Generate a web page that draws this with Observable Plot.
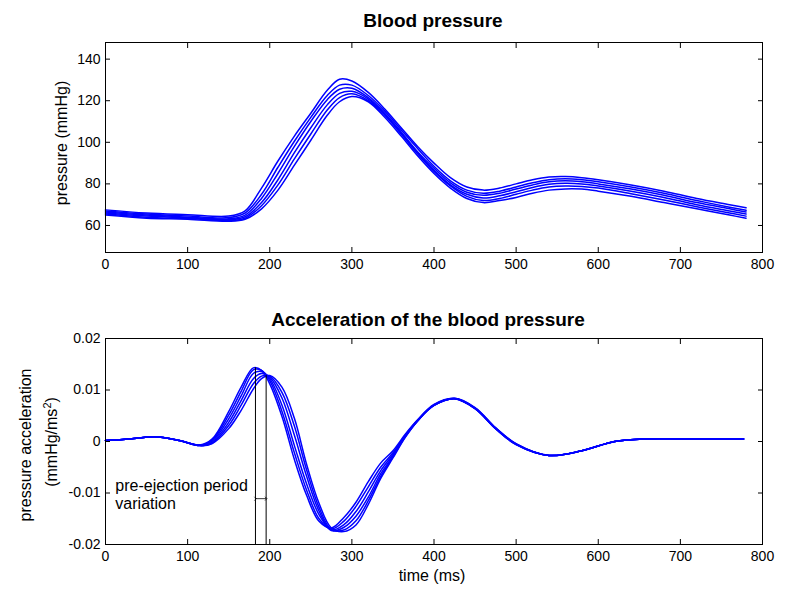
<!DOCTYPE html>
<html><head><meta charset="utf-8">
<script src="https://cdn.jsdelivr.net/npm/d3@7"></script>
<script src="https://cdn.jsdelivr.net/npm/@observablehq/plot@0.6"></script>
<style>
body{margin:0;background:#fff;}
#wrap{position:relative;width:790px;height:589px;font-family:"Liberation Sans",Arial,sans-serif;color:#000;overflow:hidden;background:#fff;}
.abs{position:absolute;white-space:nowrap;line-height:1;z-index:5;}
.title{font-weight:bold;font-size:19px;transform:translate(-50%,-50%);}
.lab{font-size:16px;transform:translate(-50%,-50%);}
.rot{transform:translate(-50%,-50%) rotate(-90deg);}
.plotbox{position:absolute;left:0;z-index:1;}
</style></head>
<body><div id="wrap">
<div id="p1" class="plotbox" style="top:0"></div>
<div id="p2" class="plotbox" style="top:300px"></div>
<div class="abs title" style="left:433px;top:20px">Blood pressure</div>
<div class="abs title" style="left:428px;top:319px">Acceleration of the blood pressure</div>
<div class="abs lab rot" style="left:62px;top:143px">pressure (mmHg)</div>
<div class="abs lab rot" style="left:26px;top:445px">pressure acceleration</div>
<div class="abs lab rot" style="left:51px;top:442px">(mmHg/ms<sup style="font-size:11px;vertical-align:6px">2</sup>)</div>
<div class="abs lab" style="left:432px;top:576px">time (ms)</div>
</div>
<script>
// ---------- Data: blood pressure (mmHg) ----------
const bpTime = [0,50,100,150,170,190,210,230,250,270,285,300,320,340,360,380,400,420,440,460,480,500,520,540,560,580,600,640,680,720,760,780];
const bp1 = [67.5,66,65.2,64.5,67,78,91,103,114,125,130.3,129.5,124,116,107,98,90,83,78.5,77,78,80,82,83.3,83.5,83,82,79.5,76.5,73,70,68.5];
const bp2 = [67,65.5,64.5,63.8,66,75,88,100.5,112,122.5,127.5,127.5,122.5,115,106,97,88.5,81.5,77,75.5,76.5,78.5,80.5,82,82.5,82,81,78.5,75.5,72,68.8,67.3];
const bp3 = [66.5,65,64,63.2,65,73,85,98,110,120.5,125.5,126,121.5,114,105,95.5,87.5,80.5,76,74.5,75.5,77.5,79.5,81,81.5,81,80,77.5,74.5,71,68,66.5];
const bp4 = [66,64.5,63.7,62.8,64.2,71,82,95,107,118,123.5,124.5,120.8,113.5,104.5,95,86.5,79.5,75,73.2,74.3,76.2,78.3,79.8,80.3,80,79,76.5,73.5,70,67,65.5];
const bp5 = [65.5,64,63.3,62.4,63.5,69.5,79.5,92,104,115.5,121.5,123.3,120,113,104,94.5,86,79,74,72,73,75,77,78.5,79,78.8,78,75.3,72.3,69,66,64.5];
const bp6 = [65,63.5,63,62,63,68,77,89,101,113,119.5,122,119.5,112,103,93.5,85,78,73,71,72,73.5,75.5,77,77.6,77.5,76.5,74,71,68,65,63.5];

// ---------- Data: acceleration (mmHg/ms^2) ----------
const accTime = [0,30,60,90,115,130,150,165,180,190,200,215,230,245,260,275,290,305,320,335,350,365,380,400,425,450,475,500,540,580,620,660,700,740,777];
const acc1 = [0.0002,0.0005,0.0009,0.0002,-0.0007,0.0005,0.0058,0.0105,0.0143,0.0138,0.0112,0.0048,-0.0035,-0.0105,-0.0155,-0.0168,-0.0148,-0.0118,-0.0078,-0.0042,-0.0018,0.0014,0.0042,0.0072,0.0084,0.0066,0.0027,-0.0004,-0.0027,-0.0018,0.0000,0.0005,0.0005,0.0005,0.0005];
const acc2 = [0.0002,0.0005,0.0009,0.0002,-0.0007,0.0003,0.0051,0.0097,0.0139,0.0138,0.0118,0.0058,-0.0022,-0.0095,-0.0150,-0.0170,-0.0155,-0.0126,-0.0088,-0.0050,-0.0022,0.0012,0.0041,0.0071,0.0084,0.0065,0.0026,-0.0005,-0.0027,-0.0018,0.0000,0.0005,0.0005,0.0005,0.0005];
const acc3 = [0.0002,0.0005,0.0009,0.0002,-0.0007,0.0001,0.0044,0.0088,0.0132,0.0136,0.0122,0.0070,-0.0008,-0.0083,-0.0142,-0.0172,-0.0162,-0.0136,-0.0098,-0.0057,-0.0025,0.0011,0.0041,0.0071,0.0083,0.0065,0.0026,-0.0005,-0.0027,-0.0018,0.0000,0.0005,0.0005,0.0005,0.0005];
const acc4 = [0.0002,0.0005,0.0009,0.0002,-0.0008,-0.0001,0.0037,0.0079,0.0122,0.0132,0.0125,0.0084,0.0012,-0.0068,-0.0135,-0.0173,-0.0167,-0.0145,-0.0108,-0.0063,-0.0028,0.0010,0.0040,0.0070,0.0083,0.0064,0.0025,-0.0005,-0.0027,-0.0018,0.0000,0.0005,0.0005,0.0005,0.0005];
const acc5 = [0.0002,0.0005,0.0009,0.0002,-0.0008,-0.0003,0.0031,0.0070,0.0112,0.0127,0.0127,0.0095,0.0030,-0.0056,-0.0128,-0.0171,-0.0172,-0.0154,-0.0115,-0.0068,-0.0030,0.0009,0.0040,0.0070,0.0083,0.0064,0.0025,-0.0006,-0.0027,-0.0018,0.0000,0.0005,0.0005,0.0005,0.0005];
const acc6 = [0.0002,0.0005,0.0009,0.0002,-0.0008,-0.0004,0.0025,0.0060,0.0102,0.0122,0.0128,0.0105,0.0045,-0.0045,-0.0120,-0.0168,-0.0175,-0.0162,-0.0122,-0.0072,-0.0032,0.0008,0.0040,0.0070,0.0083,0.0064,0.0025,-0.0006,-0.0027,-0.0018,0.0000,0.0005,0.0005,0.0005,0.0005];

// pre-ejection period markers
const ppvX = [182.6, 195.6];
const ppvTop = [0.0143, 0.0128];
const ppvArrowY = -0.0111;
const noteLines = ["pre-ejection period", "variation"];
const noteY = [-0.0087, -0.0121];
const noteX = 12;

// ticks
const xTicks = [0,100,200,300,400,500,600,700,800];
const bpTicks = [60,80,100,120,140];
const accTicks = [-0.02,-0.01,0,0.01,0.02];
const accTickLabels = ["-0.02","-0.01","0","0.01","0.02"];

const tidy = (t, series) => series.flatMap((s, k) => s.map((v, i) => ({t: t[i], v, k})));
const bpData = tidy(bpTime, [bp1,bp2,bp3,bp4,bp5,bp6]);
const accData = tidy(accTime, [acc1,acc2,acc3,acc4,acc5,acc6]);

const font = "'Liberation Sans', Arial, sans-serif";
const common = {width: 790, marginLeft: 105, marginRight: 28,
  style: {fontFamily: font, fontSize: "14px", color: "#000", background: "transparent", overflow: "visible"}};

function frameAxes(yTicks, yFmt) {
  return [
    Plot.axisX(xTicks, {anchor: "bottom", tickSize: -5, tickPadding: 12, label: null, tickFormat: d => String(d), fontSize: 14}),
    Plot.axisX(xTicks, {anchor: "top", tickSize: -5, label: null, tickFormat: () => ""}),
    Plot.axisY(yTicks, {anchor: "left", tickSize: -5, tickPadding: 10, label: null, tickFormat: yFmt, fontSize: 14}),
    Plot.axisY(yTicks, {anchor: "right", tickSize: -5, label: null, tickFormat: () => ""}),
    Plot.frame({stroke: "#000", strokeWidth: 1})
  ];
}

const p1 = Plot.plot({
  ...common, height: 300, marginTop: 42, marginBottom: 48,
  x: {domain: [0, 800]},
  y: {domain: [47, 148]},
  marks: [
    Plot.line(bpData, {x: "t", y: "v", z: "k", stroke: "#0000ff", strokeWidth: 1.5, curve: "catmull-rom"}),
    ...frameAxes(bpTicks, d => String(d))
  ]
});
document.getElementById("p1").append(p1);

const p2 = Plot.plot({
  ...common, height: 289, marginTop: 38, marginBottom: 45,
  x: {domain: [0, 800]},
  y: {domain: [-0.02, 0.02]},
  marks: [
    Plot.line(accData, {x: "t", y: "v", z: "k", stroke: "#0000ff", strokeWidth: 1.5, curve: "catmull-rom"}),
    Plot.ruleX(ppvX.map((x, i) => ({x, top: ppvTop[i]})), {x: "x", y1: -0.02, y2: "top", stroke: "#000", strokeWidth: 1}),
    Plot.link([{x1: ppvX[0], x2: ppvX[1], y: ppvArrowY}], {x1: "x1", x2: "x2", y1: "y", y2: "y", stroke: "#000", strokeWidth: 0.8, markerStart: "arrow", markerEnd: "arrow"}),
    Plot.text(noteLines.map((s, i) => ({s, y: noteY[i]})), {x: noteX, y: "y", text: "s", textAnchor: "start", fontSize: 16, fill: "#000"}),
    ...frameAxes(accTicks, (d, i) => accTickLabels[accTicks.indexOf(d)])
  ]
});
document.getElementById("p2").append(p2);
</script>
</body></html>
